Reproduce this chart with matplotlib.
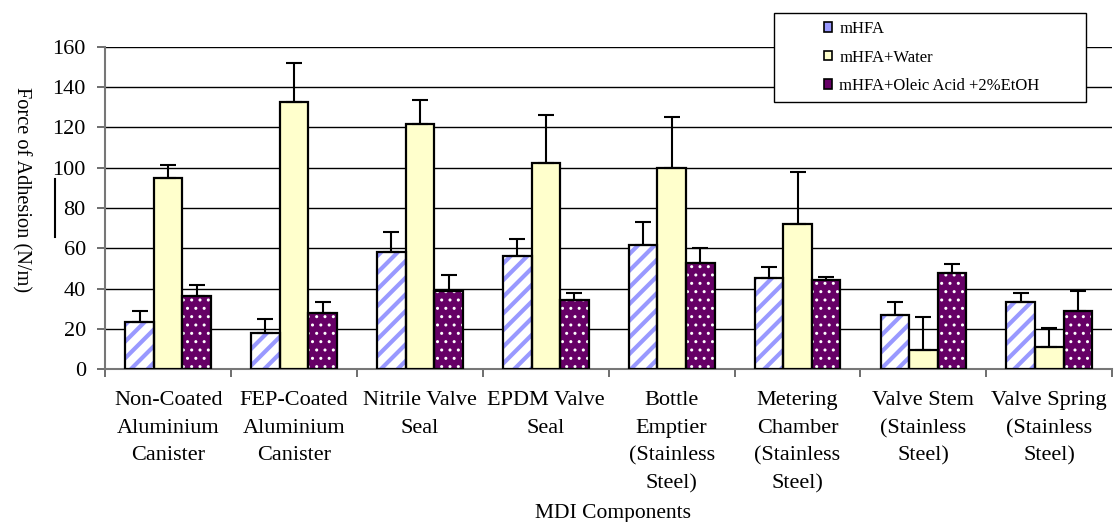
import matplotlib
matplotlib.use("Agg")
import matplotlib.pyplot as plt
import numpy as np
from matplotlib.patches import Patch, Rectangle
from matplotlib.lines import Line2D

categories = ["Non-Coated\nAluminium\nCanister", "FEP-Coated\nAluminium\nCanister",
              "Nitrile Valve\nSeal", "EPDM Valve\nSeal", "Bottle\nEmptier\n(Stainless\nSteel)",
              "Metering\nChamber\n(Stainless\nSteel)", "Valve Stem\n(Stainless\nSteel)",
              "Valve Spring\n(Stainless\nSteel)"]
series_names = ["mHFA", "mHFA+Water", "mHFA+Oleic Acid +2%EtOH"]
mhfa = [23.5, 18, 58, 56, 61.5, 45, 27, 33.5]
mhfa_err = [5.5, 7, 10, 8.5, 11.5, 5.5, 6.5, 4.5]
water = [95, 132.5, 121.5, 102.5, 100, 72, 9.5, 11]
water_err = [6.5, 19.5, 12, 23.5, 25, 26, 16.5, 9.5]
oleic = [36.5, 28, 39, 34.5, 52.5, 44, 47.5, 29]
oleic_err = [5.5, 5.5, 7.5, 3.5, 7.5, 1.5, 4.5, 10]
yticks = [0, 20, 40, 60, 80, 100, 120, 140, 160]

plt.rcParams['font.family'] = ['Liberation Serif', 'DejaVu Serif']

fig = plt.figure(figsize=(11.2, 5.22), dpi=100)
ax = fig.add_axes([0.094, 0.293, 0.899, 0.617])

x = np.arange(len(categories))
w = 0.227
data = [(mhfa, mhfa_err), (water, water_err), (oleic, oleic_err)]
faces = ["white", "#FFFFCC", "#660066"]
hatches = ["//", None, ".."]
hcolors = ["#9999FF", None, "white"]
hlws = [3.0, 1.0, 1.0]
for i, (vals, errs) in enumerate(data):
    pos = x + (i - 1) * w
    with plt.rc_context({'hatch.linewidth': hlws[i]}):
        if hatches[i]:
            bars = ax.bar(pos, vals, w, color=faces[i], edgecolor=hcolors[i], hatch=hatches[i],
                          linewidth=0, zorder=3)
            for b in bars:
                if hasattr(b, "set_hatch_linewidth"):
                    b.set_hatch_linewidth(hlws[i])
        else:
            ax.bar(pos, vals, w, color=faces[i], linewidth=0, zorder=3)
    ax.bar(pos, vals, w, fill=False, edgecolor="black", linewidth=1.6, zorder=4)
    ax.errorbar(pos, vals, yerr=[np.zeros(len(errs)), errs], fmt="none", ecolor="black",
                elinewidth=1.5, capsize=5.5, capthick=1.5, zorder=5)

ax.set_xlim(-0.5, len(categories) - 0.5)
ax.set_ylim(0, 160)
ax.set_yticks(yticks)
ax.set_yticklabels([str(v) for v in yticks], fontsize=16)
ax.yaxis.grid(True, color="black", linewidth=1.0, zorder=0)
ax.set_axisbelow(True)
ax.set_xticks(np.arange(len(categories) + 1) - 0.5)
ax.set_xticklabels([""] * (len(categories) + 1))
ax.set_xticks(x, minor=True)
ax.set_xticklabels(categories, minor=True, fontsize=16, linespacing=1.6, va="top")
ax.tick_params(axis="x", which="minor", length=0, pad=16)
ax.tick_params(axis="x", which="major", length=6, width=1.2, color="#555555")
ax.tick_params(axis="y", length=6, width=1.2, color="#555555", pad=8)
for s in ["top", "right"]:
    ax.spines[s].set_visible(False)
ax.spines["left"].set_color("#777777")
ax.spines["left"].set_linewidth(1.5)
ax.spines["bottom"].set_color("#777777")
ax.spines["bottom"].set_linewidth(1.5)

fig.text(0.019, 0.636, "Force of Adhesion (N/m)", rotation=270, fontsize=14.7,
         ha="center", va="center")
fig.text(0.547, 0.017, "MDI Components", fontsize=15.5, ha="center", va="center")
fig.add_artist(Line2D([0.049, 0.049], [1 - 179 / 522, 1 - 237 / 522], color="black",
                      linewidth=1.5, transform=fig.transFigure))

box = Rectangle((774 / 1120, 1 - 102 / 522), 312 / 1120, 89 / 522, transform=fig.transFigure,
                facecolor="white", edgecolor="black", linewidth=1.0, zorder=5)
fig.add_artist(box)
handles = [Patch(facecolor="#9999FF", edgecolor="black", linewidth=1.2),
           Patch(facecolor="#FFFFCC", edgecolor="black", linewidth=1.2),
           Patch(facecolor="#660066", edgecolor="black", linewidth=1.2)]
leg = fig.legend(handles, series_names, loc="upper left",
                 bbox_to_anchor=(824 / 1120, 1 - 21 / 522), fontsize=12,
                 frameon=False, handlelength=0.5, handleheight=0.5, handletextpad=0.42,
                 labelspacing=0.75, borderpad=0, borderaxespad=0)
leg.set_zorder(6)
fig.savefig("out.png", dpi=100)
